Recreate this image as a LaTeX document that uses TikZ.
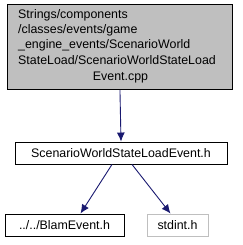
\documentclass[tikz,border=0pt]{standalone}
\usepackage{fontspec}
\setmainfont{Liberation Sans}
\usetikzlibrary{arrows.meta,positioning}

\definecolor{edgeblue}{HTML}{191970}
\definecolor{boxgray}{HTML}{BFBFBF}
\definecolor{linegray}{HTML}{BFBFBF}

\begin{document}
\begin{tikzpicture}[
  x=1pt, y=-1pt,
  every node/.style={font=\fontsize{12.4}{15.3}\selectfont, inner sep=0pt},
  filebox/.style={draw=black, fill=white, line width=0.9pt, minimum height=22pt},
  dep/.style={draw=edgeblue, line width=0.9pt, -{Latex[length=9pt, width=8pt]}},
]

%% bounding box = reference image
\useasboundingbox (0,0) rectangle (242,245);

%% root file
\node[draw=black, fill=boxgray, line width=0.9pt, minimum width=225pt,
      minimum height=85pt, anchor=north west] (src) at (7,4) {};
\node[align=left, anchor=north west] (srctxt) at (18,9)
  {Strings/components\\
   /classes/events/game\\
   \_engine\_events/ScenarioWorld\\
   StateLoad/ScenarioWorldStateLoad};
\node[anchor=base] (srclast) at (120.5,81) {Event.cpp};

%% headers
\node[filebox, minimum width=212pt] (mid) at (121,153) {ScenarioWorldStateLoadEvent.h};
\node[filebox, minimum width=119pt] (blam) at (64.5,225) {../../BlamEvent.h};
\node[filebox, draw=linegray, minimum width=61pt] (std) at (177.5,225) {stdint.h};

%% includes
\draw[dep] (src.south) -- (mid.north);
\draw[dep] ([xshift=-9pt]mid.south) -- ([xshift=16pt]blam.north);
\draw[dep] ([xshift=11pt]mid.south) -- ([xshift=-7pt]std.north);

\end{tikzpicture}
\end{document}
